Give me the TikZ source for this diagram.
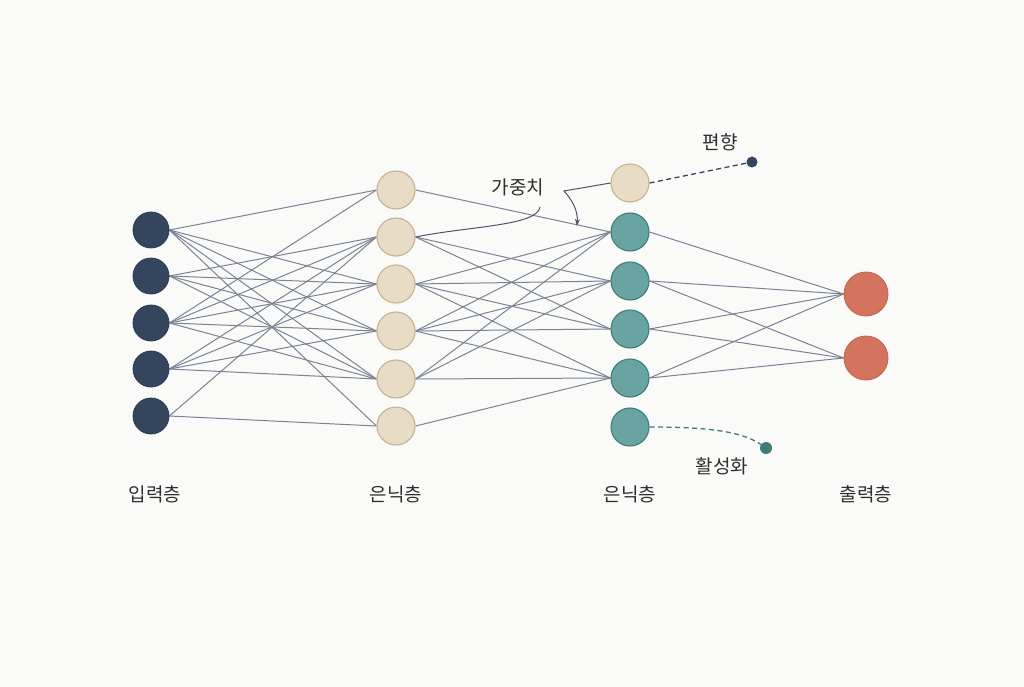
\documentclass[tikz,border=0pt]{standalone}
\usepackage{fontspec}
\newfontfamily\kr{Noto Sans CJK KR}
\usetikzlibrary{arrows.meta}
\pgfdeclarelayer{back}
\pgfdeclarelayer{edges}
\pgfsetlayers{back,edges,main}
\definecolor{bgc}{HTML}{FAFAF8}
\definecolor{navy}{HTML}{34465E}
\definecolor{navyd}{HTML}{2A3A50}
\definecolor{beige}{HTML}{E9DCC6}
\definecolor{beiged}{HTML}{C4B392}
\definecolor{teal}{HTML}{6AA4A2}
\definecolor{teald}{HTML}{3F7D7B}
\definecolor{coral}{HTML}{D4735E}
\definecolor{corald}{HTML}{C2604B}
\definecolor{edgec}{HTML}{7A8396}
\definecolor{leadc}{HTML}{4E5568}
\definecolor{txt}{HTML}{2E2E2E}
\begin{document}
\begin{tikzpicture}[x=1pt,y=-1pt,
  innode/.style={circle,fill=navy,draw=navyd,line width=0.8pt,minimum size=36pt,inner sep=0pt},
  hidnode/.style={circle,fill=beige,draw=beiged,line width=1.1pt,minimum size=38pt,inner sep=0pt},
  tealnode/.style={circle,fill=teal,draw=teald,line width=1.1pt,minimum size=38pt,inner sep=0pt},
  outnode/.style={circle,fill=coral,draw=corald,line width=0.8pt,minimum size=44pt,inner sep=0pt},
  wedge/.style={draw=edgec,line width=1pt},
  lbl/.style={font=\kr\fontsize{19}{22}\selectfont,text=txt,inner sep=0pt},
  dotnode/.style={circle,inner sep=0pt}]
\begin{pgfonlayer}{back}
\fill[bgc] (0,0) rectangle (1024,687);
\end{pgfonlayer}
\useasboundingbox (0,0) rectangle (1024,687);
% input layer
\foreach \k/\y in {1/230,2/276,3/323,4/369,5/416}
  \node[innode] (i\k) at (151,\y) {};
% hidden layer 1
\foreach \k/\y in {1/190,2/237,3/284,4/331,5/379,6/426}
  \node[hidnode] (h\k) at (396,\y) {};
% hidden layer 2
\node[hidnode] (gb) at (630,183) {};
\foreach \k/\y in {1/232,2/281,3/329,4/378,5/427}
  \node[tealnode] (g\k) at (630,\y) {};
% output
\node[outnode] (o1) at (866,294) {};
\node[outnode] (o2) at (866,358) {};
% edges
\begin{pgfonlayer}{edges}
\foreach \a/\b in {1/1,1/3,1/4,1/5,1/6,2/2,2/3,2/4,2/5,3/1,3/2,3/3,3/4,3/5,4/2,4/3,4/4,4/5,5/2,5/6}
  \draw[wedge] (i\a.east) -- (h\b.west);
\foreach \a/\b in {1/1,2/2,2/3,3/1,3/2,3/3,3/4,4/1,4/2,4/3,4/4,5/1,5/2,5/4,6/4}
  \draw[wedge] (h\a.east) -- (g\b.west);
\foreach \a/\b in {1/1,2/1,2/2,3/1,3/2,4/1,4/2}
  \draw[wedge] (g\a.east) -- (o\b.west);
\end{pgfonlayer}
% labels
\node[lbl] (l1) at (155,494) {입력층};
\node[lbl] (l2) at (396,494) {은닉층};
\node[lbl] (l3) at (630,494) {은닉층};
\node[lbl] (l4) at (866,494) {출력층};
\node[lbl] (wl) at (518,187) {가중치};
\node[lbl] (bl) at (720,142) {편향};
\node[lbl] (al) at (722,466) {활성화};
% bias and activation dots
\node[dotnode,fill=navy,minimum size=11pt] (bd) at (752,162) {};
\node[dotnode,fill=teald,minimum size=12pt] (ad) at (766,448) {};
\draw[navy,line width=1.3pt,dash pattern=on 5pt off 3.5pt] (gb.east) -- (bd);
\draw[teald,line width=1.3pt,dash pattern=on 5pt off 3.5pt] (g5.east) .. controls (700,427) and (740,430) .. (ad);
% weight label leader
\coordinate (wtip) at (540,207);
\draw[leadc,line width=1pt] (h2.east) .. controls (470,226) and (537,226) .. (wtip);
% bias leader arrow
\coordinate (bk) at (564,191);
\coordinate (btip) at (577,226);
\draw[leadc,line width=1pt,-{Stealth[length=7pt,width=5pt]}] (gb.west) -- (bk) .. controls (572,200) and (578,210) .. (btip);
\end{tikzpicture}
\end{document}
